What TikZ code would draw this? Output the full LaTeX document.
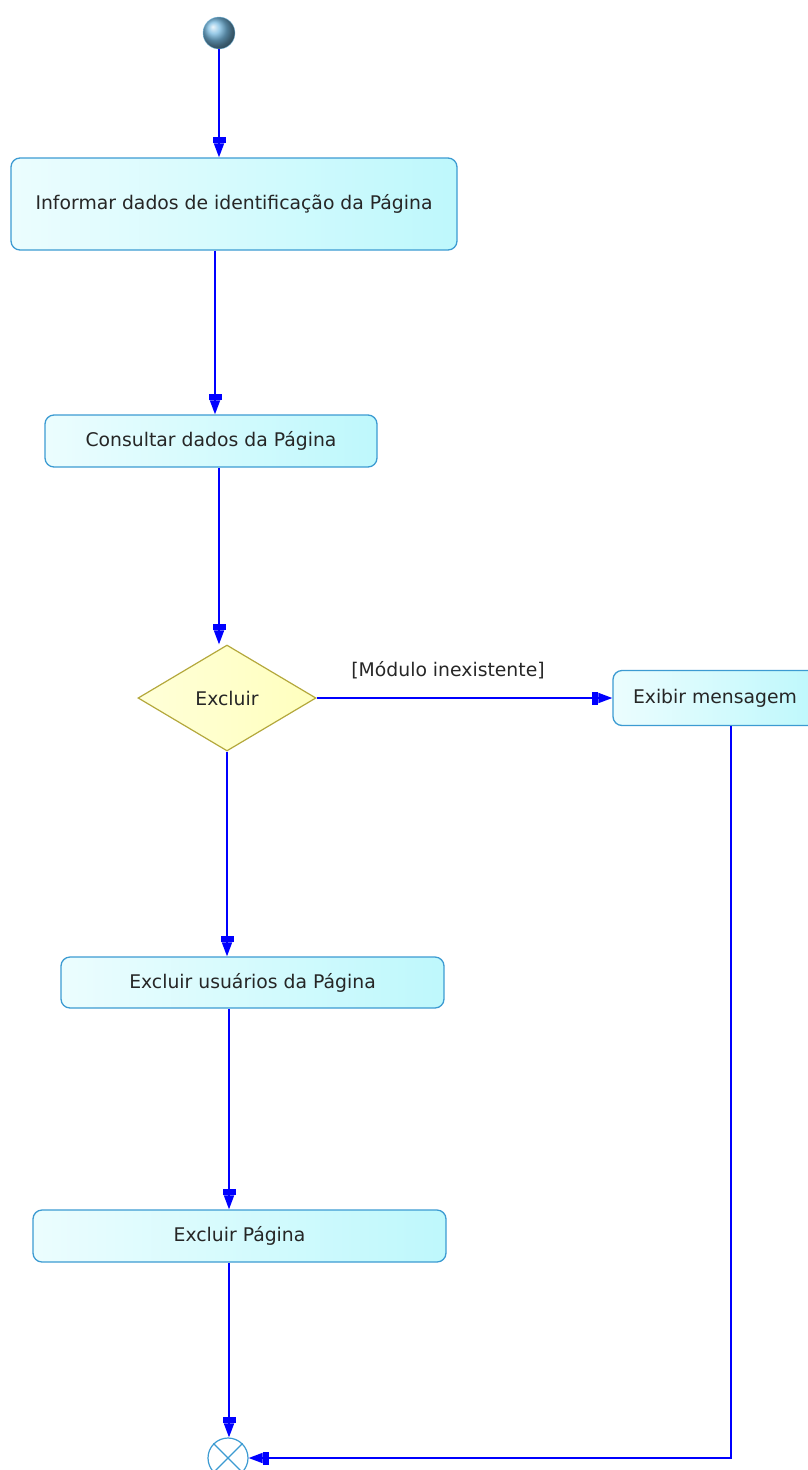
\documentclass[tikz,border=0pt]{standalone}
\usepackage{fontspec}
\setmainfont{DejaVu Sans}
\usetikzlibrary{arrows.meta,shapes.geometric}
\definecolor{flowblue}{RGB}{0,0,255}
\definecolor{boxline}{RGB}{60,155,210}
\definecolor{boxfill}{RGB}{190,248,252}
\definecolor{decline}{RGB}{180,168,60}
\definecolor{decfill}{RGB}{255,255,190}
\tikzset{
  act/.style={draw=boxline, line width=1.3pt, rounded corners=9pt,
    left color=boxfill!30!white, right color=boxfill, inner sep=0pt,
    font=\fontsize{18.8}{21}\selectfont, text=black!85},
  dec/.style={diamond, draw=decline, line width=1.2pt, left color=decfill!60!white, right color=decfill,
    minimum width=178pt, minimum height=106pt, inner sep=0pt, aspect=1.68,
    font=\fontsize{18.8}{21}\selectfont, text=black!85},
  flow/.style={draw=flowblue, line width=1.8pt,
    -{Rectangle[length=6pt,width=13pt]Triangle[length=14pt,width=10pt]}},
  lbl/.style={font=\fontsize{18.8}{21}\selectfont, text=black!85}
}
\begin{document}
\begin{tikzpicture}[x=1pt,y=-1pt]
\useasboundingbox (0,0) rectangle (808,1470);
\node[circle, inner sep=0pt, minimum size=32pt, ball color=boxline!70!white, draw=boxline!70!white] (start) at (219,33) {};
\node[act, minimum width=446pt, minimum height=92pt] (b1) at (234,204) {Informar dados de identificação da Página};
\node[act, minimum width=332pt, minimum height=52pt] (b2) at (211,441) {Consultar dados da Página};
\node[dec] (d) at (227,698) {Excluir};
\node[act, minimum width=204pt, minimum height=55pt] (ex) at (715,698) {Exibir mensagem};
\node[act, minimum width=383pt, minimum height=51pt] (b3) at (252.5,982.5) {Excluir usuários da Página};
\node[act, minimum width=413pt, minimum height=52pt] (b4) at (239.5,1236) {Excluir Página};
\node[circle, draw=boxline, line width=1.2pt, fill=white, minimum size=40pt, inner sep=0pt] (end) at (228,1458) {};
\draw[boxline, line width=1.2pt] (end.45) -- (end.225) (end.135) -- (end.315);
\node[lbl] (g) at (448,670) {[Módulo inexistente]};
\draw[flow] (start.south) -- (b1.north -| start.south);
\draw[flow] (b1.south -| 215,0) -- (b2.north -| 215,0);
\draw[flow] (b2.south -| 219,0) -- (d.north -| 219,0);
\draw[flow] (d.east) -- (ex.west);
\draw[flow] (d.south) -- (b3.north -| d.south);
\draw[flow] (b3.south -| 229,0) -- (b4.north -| 229,0);
\draw[flow] (b4.south -| 229,0) -- (end.north -| 229,0);
\coordinate (turn) at (ex.south -| 731,0);
\draw[flow] (turn) -- (turn |- end.east) -- (end.east);
\end{tikzpicture}
\end{document}
